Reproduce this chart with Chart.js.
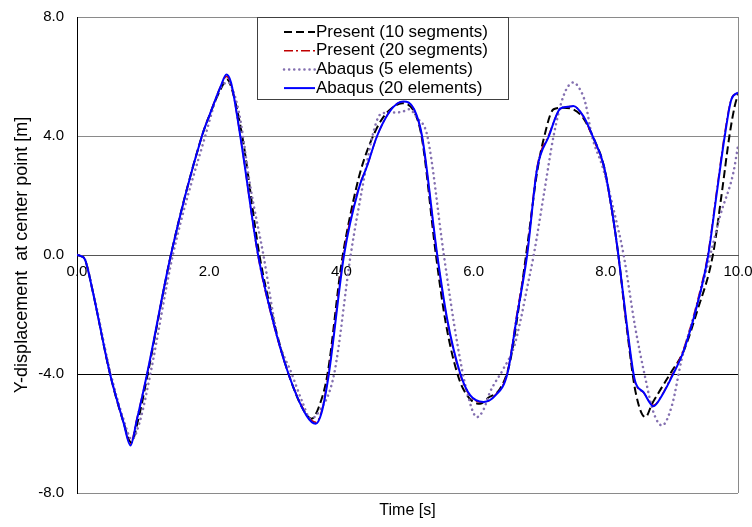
<!DOCTYPE html>
<html>
<head>
<meta charset="utf-8">
<script src="https://cdn.jsdelivr.net/npm/chart.js@4.4.1/dist/chart.umd.min.js"></script>
<style>
  html, body { margin: 0; padding: 0; background: #fff; }
</style>
</head>
<body>
<canvas id="chart" width="752" height="527"></canvas>
<script>
// time [s] and Y-displacement [m]
const present10T = [0, 0.05, 0.12, 0.23, 0.5, 0.7, 0.82, 0.92, 1.07, 1.42, 1.89, 2.01, 2.18, 2.27, 2.34, 2.5, 2.76, 2.98, 3.2, 3.45, 3.55, 3.66, 3.79, 4.0, 4.14, 4.3, 4.5, 4.64, 4.8, 4.92, 5.12, 5.22, 5.43, 5.58, 5.77, 5.93, 6.1, 6.22, 6.4, 6.55, 6.7, 6.83, 6.96, 7.06, 7.21, 7.35, 7.5, 7.66, 7.81, 7.97, 8.09, 8.19, 8.32, 8.45, 8.6, 8.7, 8.82, 9.0, 9.17, 9.38, 9.62, 9.75, 9.87, 9.95, 10.0];
const present10Y = [0, -0.03, -0.15, -1.14, -4.0, -5.6, -6.3, -5.6, -4.0, 0, 4.0, 4.73, 5.6, 5.9, 5.6, 4.0, 0, -2.26, -4.0, -5.3, -5.5, -5.1, -4.0, -0.3, 1.4, 2.9, 4.1, 4.65, 5.0, 5.1, 4.73, 3.9, 0, -2.3, -4.1, -4.8, -5.0, -4.8, -4.5, -3.6, -1.5, 0.6, 2.78, 3.9, 4.9, 4.95, 4.9, 4.6, 3.95, 3.0, 1.54, 0, -2.5, -4.6, -5.45, -5.0, -4.55, -3.9, -3.27, -1.9, 0, 2.0, 4.0, 5.0, 5.4];

const abaqus20T = [0, 0.05, 0.12, 0.23, 0.5, 0.7, 0.81, 0.9, 1.06, 1.42, 1.89, 2.01, 2.18, 2.26, 2.33, 2.47, 2.74, 2.97, 3.2, 3.47, 3.61, 3.7, 3.81, 4.04, 4.26, 4.39, 4.54, 4.72, 4.85, 4.94, 5.1, 5.22, 5.45, 5.6, 5.8, 5.95, 6.15, 6.33, 6.51, 6.66, 6.81, 6.96, 7.14, 7.31, 7.42, 7.51, 7.66, 7.81, 7.97, 8.09, 8.19, 8.32, 8.44, 8.57, 8.72, 8.85, 9.02, 9.17, 9.38, 9.55, 9.68, 9.8, 9.9, 10.0];
const abaqus20Y = [0, -0.03, -0.15, -1.14, -4.0, -5.6, -6.4, -5.6, -4.0, 0, 4.0, 4.73, 5.7, 6.07, 5.8, 4.0, 0, -2.26, -4.0, -5.39, -5.67, -5.3, -4.0, 0, 2.21, 3.0, 4.0, 4.79, 5.1, 5.16, 4.9, 4.0, 0, -2.15, -4.0, -4.72, -4.94, -4.72, -4.0, -2.0, 0, 2.89, 4.0, 4.92, 4.98, 5.01, 4.67, 3.95, 3.0, 1.54, 0, -2.37, -4.22, -4.61, -5.08, -4.72, -4.0, -3.27, -1.7, 0, 2.1, 4.0, 5.23, 5.46];

const present20T = abaqus20T;
const present20Y = [0, -0.03, -0.15, -1.14, -4.0, -5.6, -6.35, -5.55, -4.0, 0, 4.0, 4.75, 5.7, 6.0, 5.75, 4.0, -0.05, -2.3, -4.0, -5.35, -5.62, -5.25, -3.9, 0.1, 2.25, 3.0, 4.0, 4.8, 5.1, 5.15, 4.88, 3.95, -0.05, -2.2, -4.05, -4.75, -4.95, -4.7, -3.95, -1.9, 0.1, 2.95, 4.05, 4.9, 4.98, 5.0, 4.65, 3.9, 2.95, 1.5, -0.05, -2.45, -4.25, -4.62, -5.05, -4.7, -3.95, -3.2, -1.6, 0.1, 2.2, 4.1, 5.25, 5.45];

const abaqus5T = [0, 0.05, 0.12, 0.23, 0.5, 0.7, 0.83, 0.95, 1.11, 1.45, 1.94, 2.16, 2.29, 2.38, 2.47, 2.62, 2.82, 3.03, 3.25, 3.42, 3.53, 3.65, 3.89, 4.14, 4.32, 4.47, 4.59, 4.73, 4.9, 5.02, 5.15, 5.3, 5.55, 5.75, 5.9, 6.05, 6.15, 6.25, 6.45, 6.61, 6.71, 6.81, 6.91, 7.06, 7.21, 7.36, 7.51, 7.6, 7.69, 7.79, 7.96, 8.14, 8.27, 8.44, 8.6, 8.72, 8.85, 9.0, 9.15, 9.38, 9.58, 9.73, 9.93, 10.0];
const abaqus5Y = [0, -0.03, -0.15, -1.1, -3.9, -5.5, -6.2, -5.6, -4.0, 0, 4.0, 5.57, 5.8, 5.4, 4.56, 2.33, 0, -2.7, -4.0, -5.0, -5.5, -5.3, -4.0, 0, 2.3, 4.0, 4.73, 4.79, 4.8, 4.9, 4.6, 4.0, 0, -2.93, -4.6, -5.45, -5.2, -4.6, -3.83, -3.1, -2.2, -1.1, 0, 2.0, 4.0, 5.35, 5.8, 5.6, 5.12, 4.0, 2.9, 1.32, 0, -2.37, -4.16, -5.28, -5.73, -5.06, -3.49, -1.7, 0, 1.32, 2.77, 3.67];

const xTicks = [0, 2, 4, 6, 8, 10];
const yTicks = [-8, -4, 0, 4, 8];

const toPoints = (ts, ys) => ts.map((t, i) => ({ x: t, y: ys[i] }));

const FONT = '"Liberation Sans", Arial, sans-serif';

// legend drawn as a framed box inside the plot, like the original
const legendBox = {
  id: 'legendBox',
  afterDraw(chart) {
    const ctx = chart.ctx;
    const x = 257, y = 17, w = 251, h = 82;
    ctx.save();
    ctx.fillStyle = '#fff';
    ctx.fillRect(x, y, w, h);
    ctx.strokeStyle = '#404040';
    ctx.lineWidth = 1;
    ctx.strokeRect(x + 0.5, y + 0.5, w, h);
    ctx.font = '17px ' + FONT;
    ctx.textBaseline = 'middle';
    chart.data.datasets.forEach((ds, i) => {
      const rowY = y + 15 + i * 18.7;
      ctx.beginPath();
      ctx.strokeStyle = ds.borderColor;
      ctx.lineWidth = ds.borderWidth;
      ctx.lineCap = ds.borderCapStyle || 'butt';
      ctx.setLineDash(ds.borderDash || []);
      ctx.moveTo(284, rowY);
      ctx.lineTo(315, rowY);
      ctx.stroke();
      ctx.setLineDash([]);
      ctx.fillStyle = '#000';
      ctx.fillText(ds.label, 316, rowY);
    });
    ctx.restore();
  }
};

const yGridColor = v => {
  if (v === -4) return '#000';
  if (v === 0) return 'rgba(0,0,0,0)';
  return '#8a8a8a';
};

// keep tick labels from pushing the plot area inwards
const noOverflow = s => {
  s.paddingLeft = 0;
  s.paddingRight = 0;
  s.paddingTop = 0;
  s.paddingBottom = 0;
};

new Chart(document.getElementById('chart'), {
  type: 'line',
  data: {
    datasets: [
      {
        label: 'Present (10 segments)',
        data: toPoints(present10T, present10Y),
        borderColor: '#000000',
        borderWidth: 2,
        borderDash: [8, 4],
        order: 4
      },
      {
        label: 'Present (20 segments)',
        data: toPoints(present20T, present20Y),
        borderColor: '#c00000',
        borderWidth: 1.5,
        borderDash: [9, 3, 2, 3],
        order: 3
      },
      {
        label: 'Abaqus (5 elements)',
        data: toPoints(abaqus5T, abaqus5Y),
        borderColor: '#8470b0',
        borderWidth: 2.5,
        borderDash: [0.1, 5],
        borderCapStyle: 'round',
        order: 2
      },
      {
        label: 'Abaqus (20 elements)',
        data: toPoints(abaqus20T, abaqus20Y),
        borderColor: '#0000ff',
        borderWidth: 2,
        order: 1
      }
    ]
  },
  options: {
    responsive: false,
    animation: false,
    elements: {
      point: { radius: 0 },
      line: { cubicInterpolationMode: 'monotone' }
    },
    layout: { padding: { top: 17, right: 14, left: 0, bottom: 0 } },
    plugins: {
      legend: { display: false },
      tooltip: { enabled: false }
    },
    scales: {
      x: {
        type: 'linear',
        position: { y: 0 },
        min: 0,
        max: 10,
        afterBuildTicks: s => { s.ticks = xTicks.map(v => ({ value: v })); },
        afterFit: noOverflow,
        ticks: {
          padding: 8,
          maxRotation: 0,
          color: '#000',
          font: { family: FONT, size: 15 },
          callback: v => v.toFixed(1)
        },
        grid: {
          drawTicks: false,
          color: c => (c.tick && c.tick.value === 10 ? '#8a8a8a' : 'rgba(0,0,0,0)')
        },
        border: { color: '#555', width: 1 }
      },
      xTitle: {
        type: 'linear',
        axis: 'x',
        position: 'bottom',
        min: 0,
        max: 10,
        afterFit: s => { s.height = 34; noOverflow(s); },
        ticks: { display: false },
        grid: { display: false, drawTicks: false },
        border: { display: false },
        title: {
          display: true,
          text: 'Time [s]',
          color: '#000',
          font: { family: FONT, size: 16 },
          padding: { top: 0, bottom: 7 }
        }
      },
      y: {
        type: 'linear',
        min: -8,
        max: 8,
        afterBuildTicks: s => { s.ticks = yTicks.map(v => ({ value: v })); },
        afterFit: s => { s.width = 77; noOverflow(s); },
        ticks: {
          padding: 13,
          color: '#000',
          font: { family: FONT, size: 15 },
          callback: v => v.toFixed(1)
        },
        grid: {
          drawTicks: false,
          color: c => yGridColor(c.tick ? c.tick.value : null)
        },
        border: { color: '#000', width: 1 },
        title: {
          display: true,
          text: 'Y-displacement  at center point [m]',
          color: '#000',
          font: { family: FONT, size: 18 },
          padding: { top: 11, bottom: 0 }
        }
      }
    }
  },
  plugins: [legendBox]
});
</script>
</body>
</html>
